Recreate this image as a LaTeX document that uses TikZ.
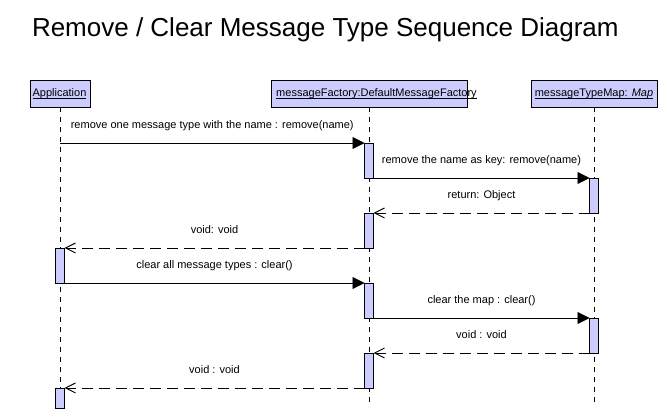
\documentclass[tikz,border=0pt]{standalone}
\usepackage{fontspec}
\setmainfont{Liberation Sans}
\usetikzlibrary{arrows.meta}
\definecolor{boxfill}{RGB}{204,204,255}
\newcommand\ulx[1]{\setbox0\hbox{#1}\rlap{\rule[-1.8pt]{\wd0}{0.8pt}}\box0}
\begin{document}
\begin{tikzpicture}[x=1pt,y=-1pt,
  every node/.style={font=\fontsize{11}{13}\selectfont, inner sep=0pt, outer sep=0pt},
  head/.style={draw=black, fill=boxfill, line width=0.9pt, minimum height=27pt},
  act/.style={draw=black, fill=boxfill, line width=0.9pt, minimum width=9pt, anchor=north},
  lifeline/.style={line width=0.9pt, dash pattern=on 5pt off 5pt},
  call/.style={line width=0.9pt, -{Triangle[length=12pt,width=12pt]}},
  reply/.style={line width=0.9pt, dash pattern=on 11pt off 6pt, -{Straight Barb[length=10pt,width=10pt]}},
  msg/.style={anchor=base, yshift=14.5pt}]
\useasboundingbox (0,0) rectangle (667,419);
\fill[white] (0,0) rectangle (667,419);

% title
\node[anchor=base west, font=\fontsize{26}{30}\selectfont] (title) at (32,37) {Remove / Clear Message Type Sequence Diagram};

% heads
\node[head, minimum width=60pt] (app) at (60,93.5) {};
\node[head, minimum width=196pt] (fac) at (369,93.5) {};
\node[head, minimum width=126pt] (map) at (594,93.5) {};
\node[anchor=base] (appL) at (59.5,97) {\ulx{Application}};
\node[anchor=base] (facL) at (376.5,97) {\ulx{messageFactory:DefaultMessageFactory}};
\node[anchor=base] (mapL) at (594,97) {\ulx{messageTypeMap: \textit{Map}}};

% lifelines
\coordinate (appEnd) at (60,404);
\coordinate (facEnd) at (369,404);
\coordinate (mapEnd) at (594,404);
\draw[lifeline] (app.south) -- (appEnd);
\draw[lifeline] (fac.south) -- (facEnd);
\draw[lifeline] (map.south) -- (mapEnd);

% activations
\node[act, minimum height=35pt] (A1) at (60,248) {};
\node[act, minimum height=20pt] (A2) at (60,388) {};
\node[act, minimum height=35pt] (F1) at (369,143) {};
\node[act, minimum height=35pt] (F2) at (369,213) {};
\node[act, minimum height=35pt] (F3) at (369,283) {};
\node[act, minimum height=35pt] (F4) at (369,353) {};
\node[act, minimum height=35pt] (M1) at (594,178) {};
\node[act, minimum height=35pt] (M2) at (594,318) {};

% messages
\coordinate (m1s) at (60,143);
\draw[call] (m1s) -- node[msg] (l1) {remove one message type with the name : remove(name)} (F1.north west);
\draw[call] (F1.south east) -- node[msg] (l2) {remove the name as key: remove(name)} (M1.north west);
\draw[reply] (M1.south west) -- node[msg] (l3) {return: Object} (F2.north east);
\draw[reply] (F2.south west) -- node[msg] (l4) {void: void} (A1.north east);
\draw[call] (A1.south east) -- node[msg] (l5) {clear all message types : clear()} (F3.north west);
\draw[call] (F3.south east) -- node[msg] (l6) {clear the map : clear()} (M2.north west);
\draw[reply] (M2.south west) -- node[msg] (l7) {void : void} (F4.north east);
\draw[reply] (F4.south west) -- node[msg] (l8) {void : void} (A2.north east);
\end{tikzpicture}
\end{document}
